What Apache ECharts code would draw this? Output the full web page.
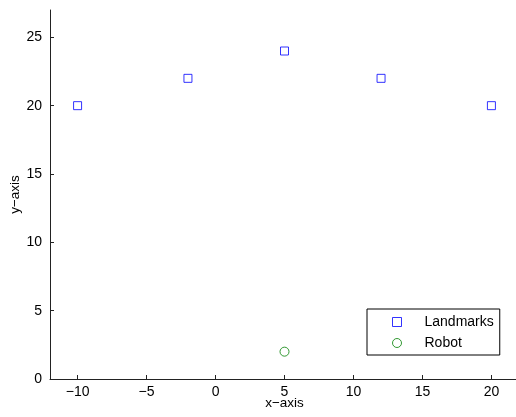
<!DOCTYPE html>
<html>
<head>
<meta charset="utf-8">
<script src="https://cdn.jsdelivr.net/npm/echarts@6/dist/echarts.min.js"></script>
<style>
  html, body { margin: 0; padding: 0; background: #fff; }
  #chart { width: 516px; height: 417px; }
</style>
</head>
<body>
<div id="chart"></div>
<script>
// landmark positions (x, y)
const landmarkX = [-10, -2, 5, 12, 20];
const landmarkY = [20, 22, 24, 22, 20];
// robot position
const robotX = [5];
const robotY = [2];

const xTicks = [-10, -5, 0, 5, 10, 15, 20];
const yTicks = [0, 5, 10, 15, 20, 25];

const font = 'Liberation Sans, Arial, Helvetica, sans-serif';

const zip = (xs, ys) => xs.map((x, i) => [x, ys[i]]);

const chart = echarts.init(document.getElementById('chart'));

chart.setOption({
  animation: false,
  backgroundColor: '#fff',
  grid: { left: 50, top: 10, width: 469, height: 369, containLabel: false, outerBoundsMode: 'none' },
  xAxis: {
    type: 'value',
    min: -12,
    max: 22,
    interval: 5,
    name: 'x\u2212axis',
    nameLocation: 'middle',
    nameGap: 17,
    nameMoveOverlap: false,
    nameTextStyle: { color: '#000', fontSize: 13.5, fontFamily: font },
    axisLine: { show: true, onZero: false, lineStyle: { color: '#222', width: 1 } },
    axisTick: { show: true, inside: true, length: 4, lineStyle: { color: '#222' }, customValues: xTicks },
    axisLabel: {
      color: '#000', fontSize: 14, fontFamily: font, margin: 6,
      customValues: xTicks,
      formatter: v => String(v).replace('-', '\u2212')
    },
    splitLine: { show: false }
  },
  yAxis: {
    type: 'value',
    min: 0,
    max: 27,
    interval: 5,
    name: 'y\u2212axis',
    nameLocation: 'middle',
    nameGap: 28,
    nameMoveOverlap: false,
    nameTextStyle: { color: '#000', fontSize: 13.5, fontFamily: font },
    axisLine: { show: true, onZero: false, lineStyle: { color: '#222', width: 1 } },
    axisTick: { show: true, inside: true, length: 4, lineStyle: { color: '#222' }, customValues: yTicks },
    axisLabel: { color: '#000', fontSize: 14, fontFamily: font, margin: 8, customValues: yTicks },
    splitLine: { show: false }
  },
  legend: {
    orient: 'vertical',
    left: 367,
    top: 309,
    padding: [6, 6, 5, 25],
    itemGap: 7,
    itemWidth: 9,
    itemHeight: 9,
    borderColor: '#000',
    borderWidth: 1,
    backgroundColor: '#fff',
    itemStyle: { borderWidth: 1 },
    textStyle: { color: '#000', fontSize: 14, fontFamily: font, lineHeight: 14, padding: [0, 0, 0, 18] },
    data: ['Landmarks', 'Robot']
  },
  series: [
    {
      name: 'Landmarks',
      type: 'scatter',
      symbol: 'rect',
      symbolSize: 8,
      itemStyle: { color: '#fff', borderColor: '#0000ff', borderWidth: 1 },
      data: zip(landmarkX, landmarkY)
    },
    {
      name: 'Robot',
      type: 'scatter',
      symbol: 'circle',
      symbolSize: 9,
      itemStyle: { color: '#fff', borderColor: '#008000', borderWidth: 1 },
      data: zip(robotX, robotY)
    }
  ]
});
</script>
</body>
</html>
